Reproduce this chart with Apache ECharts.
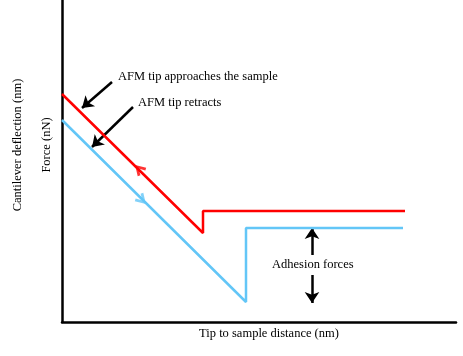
<!DOCTYPE html>
<html><head><meta charset="utf-8">
<script src="https://cdn.jsdelivr.net/npm/echarts@6/dist/echarts.min.js"></script>
<style>html,body{margin:0;padding:0;background:#fff}#c{width:463px;height:356px}</style>
</head><body><div id="c"></div>
<script>
// Data (x: distance units, y: force units)
const approachLine = [[0,228],[141,89],[141,111],[343,111]];
const retractLine  = [[0,202],[184,20],[184,94],[341,94]];
const approachDir = [[77,153]];
const retractDir  = [[80,122]];
const pointerArrows = [
  [[50,240],[20,214]],
  [[71,215],[30,175]],
  [[250,67],[250,94]],
  [[250,47],[250,19]]
];
const labels = {
  x: 'Tip to sample distance (nm)',
  y1: 'Cantilever deflection (nm)',
  y2: 'Force (nN)',
  a1: 'AFM tip approaches the sample',
  a2: 'AFM tip retracts',
  a3: 'Adhesion forces'
};

const chart = echarts.init(document.getElementById('c'));
const font = '"Liberation Serif", "Times New Roman", serif';
const chevron = 'path://M0,8.8 L5,0 L10,8.8 L7.9,10 L5,4.4 L2.1,10 Z';
chart.setOption({
  animation: false,
  grid: {left: 62, right: 7, top: 0, bottom: 34},
  xAxis: {type: 'value', min: 0, max: 394, axisLine: {lineStyle: {color: '#000', width: 2.5}},
    axisTick: {show: false}, axisLabel: {show: false}, splitLine: {show: false}},
  yAxis: {type: 'value', min: 0, max: 322, axisLine: {show: true, lineStyle: {color: '#000', width: 2.5}},
    axisTick: {show: false}, axisLabel: {show: false}, splitLine: {show: false}},
  series: [
    {type: 'line', data: approachLine, symbol: 'none', lineStyle: {color: '#ff0000', width: 2.5}},
    {type: 'line', data: retractLine, symbol: 'none', lineStyle: {color: '#63c6f7', width: 2.5}},
    {type: 'scatter', data: approachDir, symbol: chevron, symbolSize: [12, 11], symbolRotate: 45,
      itemStyle: {color: '#ff0000'}},
    {type: 'scatter', data: retractDir, symbol: chevron, symbolSize: [12, 11], symbolRotate: 225,
      itemStyle: {color: '#63c6f7'}},
    {type: 'lines', coordinateSystem: 'cartesian2d', symbol: ['none', 'arrow'], symbolSize: 11,
      lineStyle: {color: '#000', width: 2.5, opacity: 1},
      data: pointerArrows.map(c => ({coords: c}))}
  ],
  graphic: [
    {type: 'text', left: 118, top: 70, style: {text: labels.a1, font: '12.5px ' + font, fill: '#000'}},
    {type: 'text', left: 138, top: 96, style: {text: labels.a2, font: '12.5px ' + font, fill: '#000'}},
    {type: 'text', left: 272, top: 258, style: {text: labels.a3, font: '12.5px ' + font, fill: '#000'}},
    {type: 'text', x: 269, y: 334, style: {text: labels.x, font: '12.5px ' + font, fill: '#000', align: 'center', verticalAlign: 'middle'}},
    {type: 'text', x: 18, y: 145, rotation: Math.PI / 2, style: {text: labels.y1, font: '12.5px ' + font, fill: '#000', align: 'center', verticalAlign: 'middle'}},
    {type: 'text', x: 47, y: 145, rotation: Math.PI / 2, style: {text: labels.y2, font: '12.5px ' + font, fill: '#000', align: 'center', verticalAlign: 'middle'}}
  ]
});
</script></body></html>
